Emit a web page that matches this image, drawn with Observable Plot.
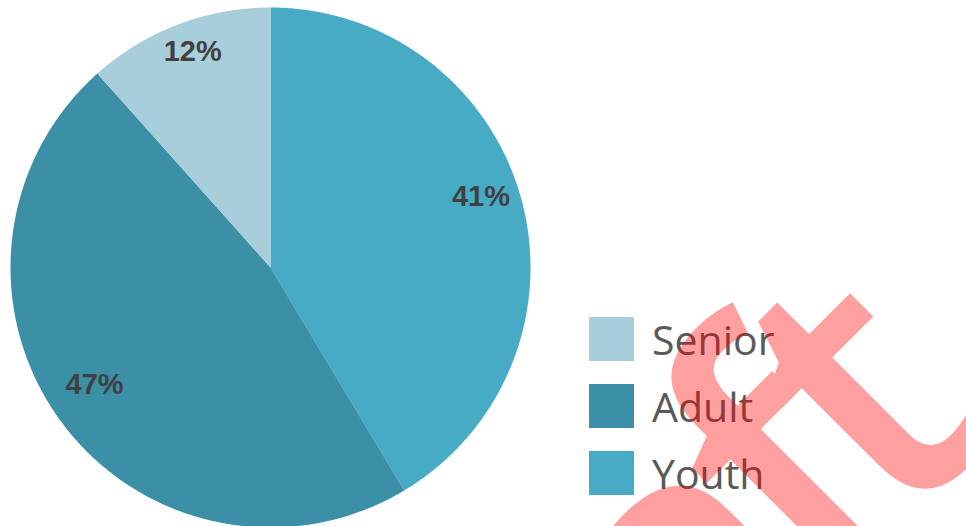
<!DOCTYPE html>
<html>
<head>
<meta charset="utf-8">
<script src="https://cdn.jsdelivr.net/npm/d3@7"></script>
<script src="https://cdn.jsdelivr.net/npm/@observablehq/plot@0.6"></script>
<style>
  html, body { margin: 0; padding: 0; background: #fff; }
  #wrap { position: relative; width: 966px; height: 526px; overflow: hidden; }
  #legend { position: absolute; left: 589px; top: 317px; font-family: "Open Sans", sans-serif; color: #595959; }
  .row { display: flex; align-items: center; height: 44px; margin-bottom: 23px; }
  .sw { width: 45px; height: 44px; margin-right: 18px; }
  .lab { font-size: 41px; line-height: 44px; }
  #wm { position: absolute; left: 0; top: 0; pointer-events: none; }
</style>
</head>
<body>
<div id="wrap"></div>
<script>
// Data
const categories = ["Youth", "Adult", "Senior"];
const shares = [41.4, 47.0, 11.6];
const legendOrder = ["Senior", "Adult", "Youth"];
const colors = ["#A9CEDB", "#3B8FA6", "#47ABC6"];

const W = 966, H = 526, R = 260, CX = 270, CY = 267;

const rows = categories.map((c, i) => ({cat: c, value: shares[i]}));
const pie = d3.pie().value(d => d.value).sort(null)(rows);

// Build sector outlines (in unit-radius coordinates) from pie angles
const pts = [];
for (const a of pie) {
  const cat = a.data.cat;
  pts.push({cat, x: 0, y: 0});
  const n = Math.max(2, Math.ceil((a.endAngle - a.startAngle) / (Math.PI / 360)));
  for (let k = 0; k <= n; k++) {
    const t = a.startAngle + (a.endAngle - a.startAngle) * k / n;
    pts.push({cat, x: Math.sin(t), y: Math.cos(t)});
  }
}
const labels = pie.map(a => {
  const m = (a.startAngle + a.endAngle) / 2, r = 0.84;
  return {cat: a.data.cat, x: r * Math.sin(m), y: r * Math.cos(m), text: Math.round(a.data.value) + "%"};
});

const chart = Plot.plot({
  width: W, height: H,
  margin: 0,
  x: {domain: [-CX / R, (W - CX) / R], axis: null},
  y: {domain: [-(H - CY) / R, CY / R], axis: null},
  color: {domain: legendOrder, range: colors},
  marks: [
    Plot.line(pts, {x: "x", y: "y", z: "cat", fill: "cat", stroke: "none", curve: "linear"}),
    Plot.text(labels, {x: "x", y: "y", dy: -12, text: "text", fill: "#404040", fontSize: 29, fontWeight: "bold",
      fontFamily: "Liberation Sans Narrow, Arial Narrow, sans-serif"})
  ]
});
const wrap = document.getElementById("wrap");
wrap.appendChild(chart);

// Legend
const color = chart.scale("color");
const leg = document.createElement("div");
leg.id = "legend";
legendOrder.forEach(c => {
  const row = document.createElement("div"); row.className = "row";
  const sw = document.createElement("div"); sw.className = "sw";
  sw.style.background = d3.scaleOrdinal(color.domain, color.range)(c);
  const lab = document.createElement("span"); lab.className = "lab"; lab.textContent = c;
  row.appendChild(sw); row.appendChild(lab); leg.appendChild(row);
});
wrap.appendChild(leg);

// Watermark
const ns = "http://www.w3.org/2000/svg";
const wm = document.createElementNS(ns, "svg");
wm.setAttribute("id", "wm"); wm.setAttribute("width", W); wm.setAttribute("height", H);
const t = document.createElementNS(ns, "text");
t.setAttribute("transform", "translate(1002,428) rotate(-45)");
t.setAttribute("text-anchor", "end");
t.setAttribute("font-family", "Open Sans, sans-serif");
t.setAttribute("font-weight", "600");
t.setAttribute("font-size", "375");
t.setAttribute("fill", "#ff0000");
t.setAttribute("opacity", "0.37");
[["Dra", 0], ["f", -32], ["t", -30]].forEach(([s, dx]) => {
  const sp = document.createElementNS(ns, "tspan");
  if (dx) sp.setAttribute("dx", dx);
  sp.textContent = s;
  t.appendChild(sp);
});
wm.appendChild(t);
wrap.appendChild(wm);
</script>
</body>
</html>
